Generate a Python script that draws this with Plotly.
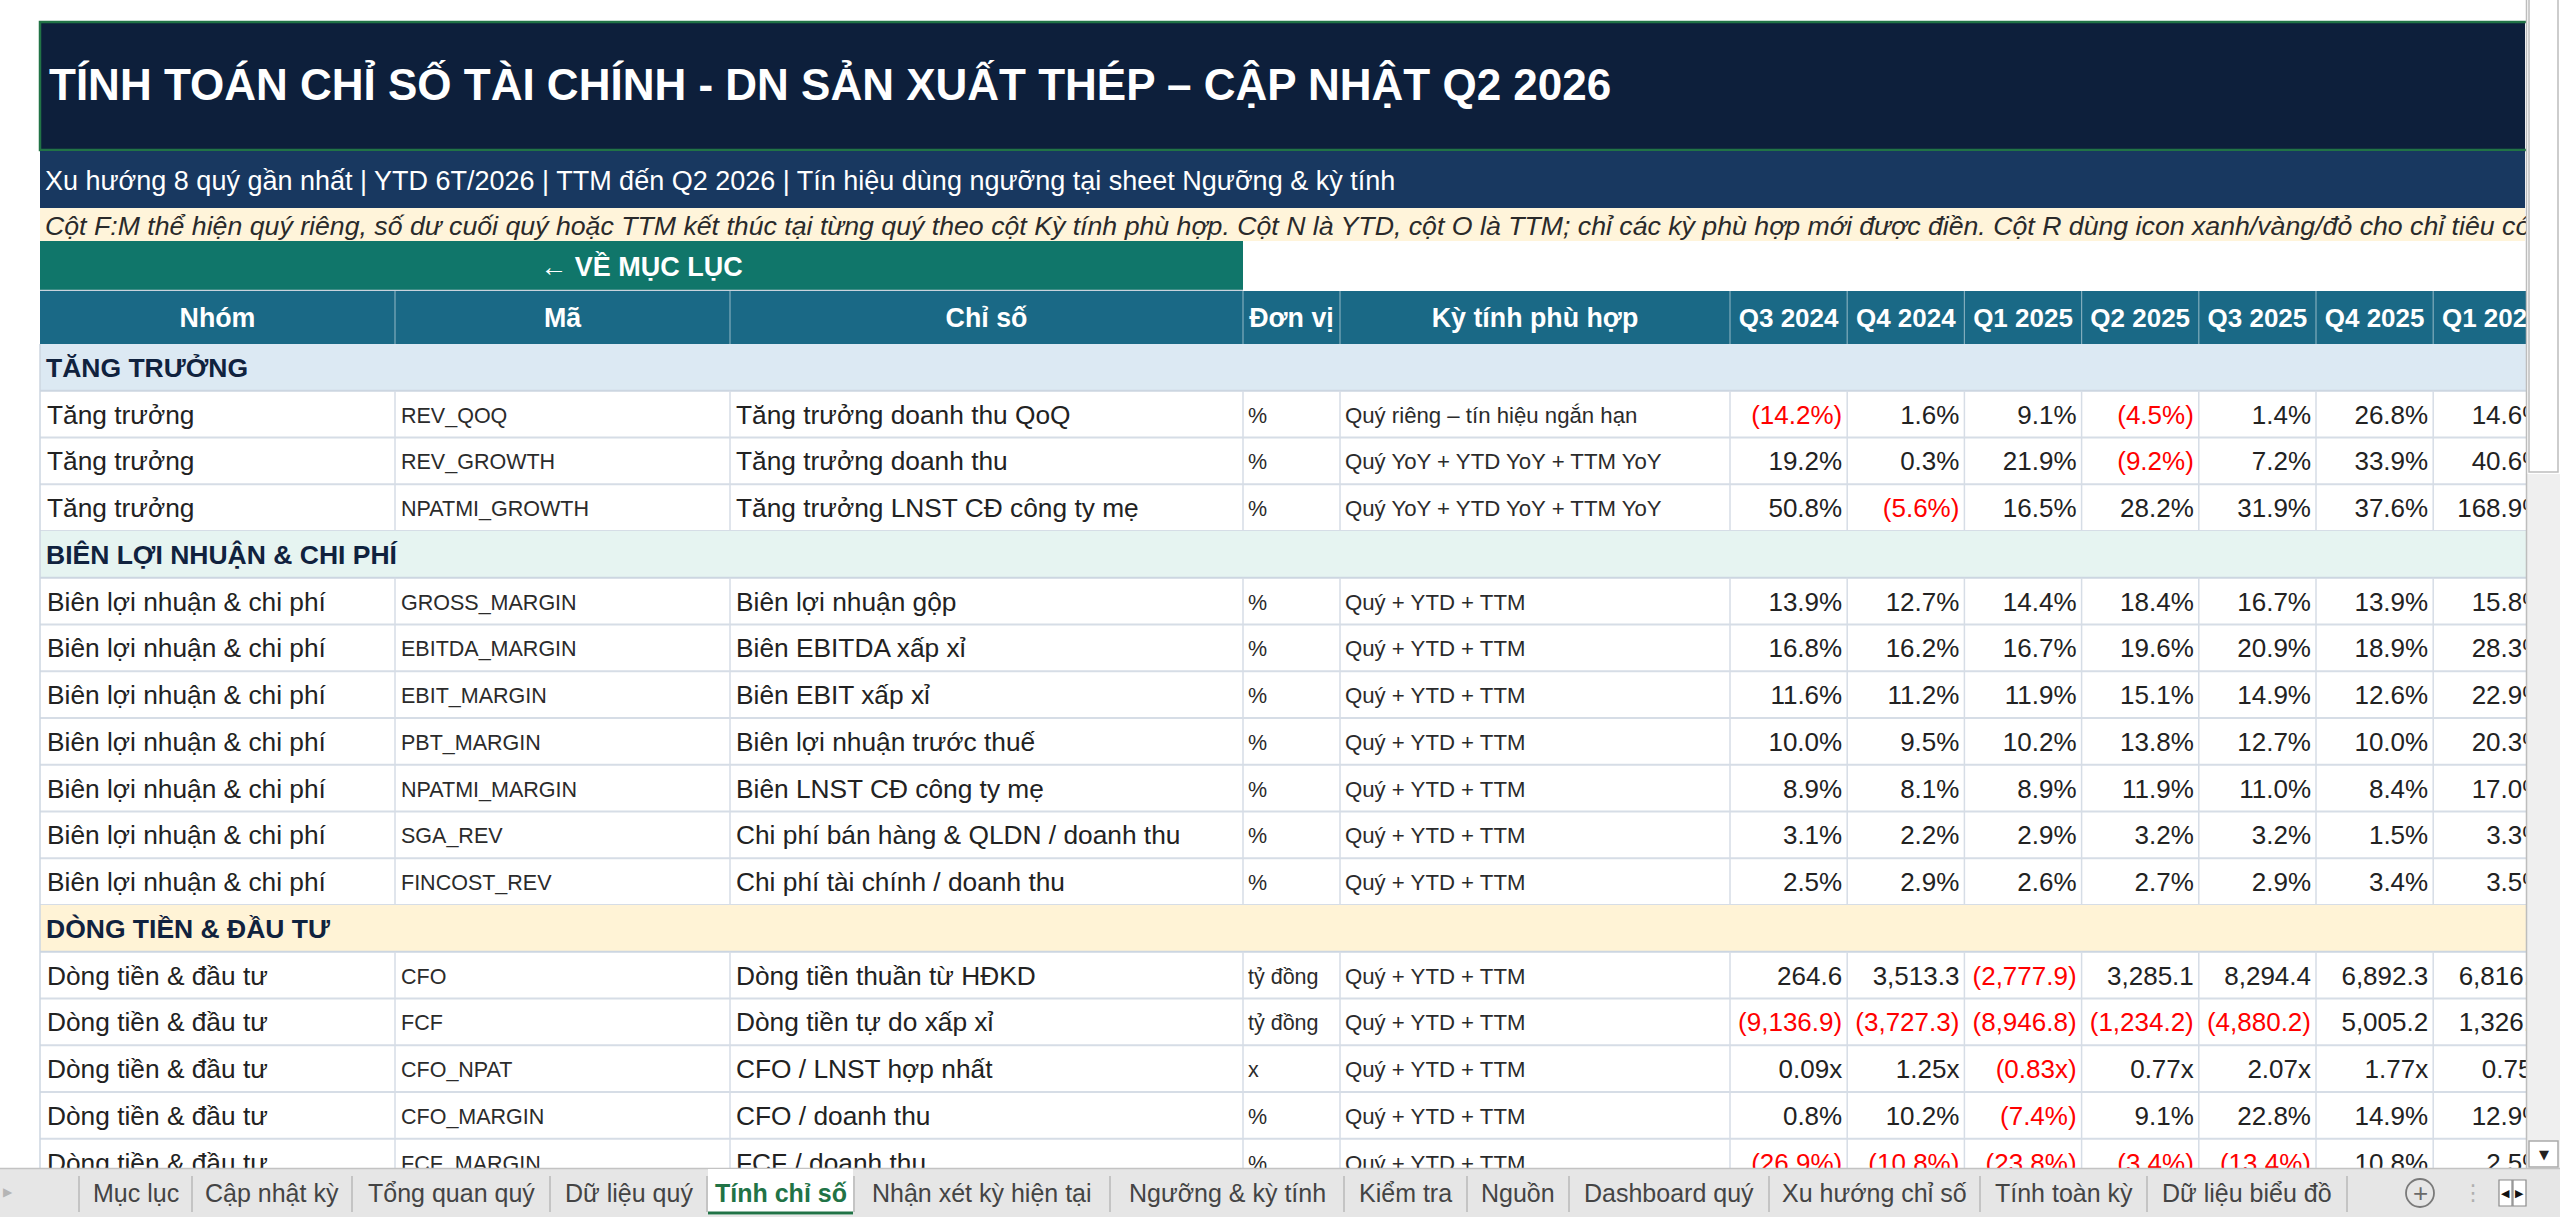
import plotly.graph_objects as go

# ---------------- data ----------------
title_text = "TÍNH TOÁN CHỈ SỐ TÀI CHÍNH - DN SẢN XUẤT THÉP – CẬP NHẬT Q2 2026"
subtitle_text = ("Xu hướng 8 quý gần nhất | YTD 6T/2026 | TTM đến Q2 2026 | "
                 "Tín hiệu dùng ngưỡng tại sheet Ngưỡng & kỳ tính")
note_text = ("Cột F:M thể hiện quý riêng, số dư cuối quý hoặc TTM kết thúc tại từng quý theo cột "
             "Kỳ tính phù hợp. Cột N là YTD, cột O là TTM; chỉ các kỳ phù hợp mới được điền. "
             "Cột R dùng icon xanh/vàng/đỏ cho chỉ tiêu có")
button_text = "← VỀ MỤC LỤC"

header_labels = ["Nhóm", "Mã", "Chỉ số", "Đơn vị", "Kỳ tính phù hợp"]
quarters = ["Q3 2024", "Q4 2024", "Q1 2025", "Q2 2025", "Q3 2025", "Q4 2025", "Q1 2026"]

sections = ["TĂNG TRƯỞNG", "BIÊN LỢI NHUẬN & CHI PHÍ", "DÒNG TIỀN & ĐẦU TƯ"]
section_groups = ["Tăng trưởng", "Biên lợi nhuận & chi phí", "Dòng tiền & đầu tư"]

growth_codes = ["REV_QOQ", "REV_GROWTH", "NPATMI_GROWTH"]
growth_names = ["Tăng trưởng doanh thu QoQ", "Tăng trưởng doanh thu",
                "Tăng trưởng LNST CĐ công ty mẹ"]
growth_units = ["%", "%", "%"]
growth_periods = ["Quý riêng – tín hiệu ngắn hạn", "Quý YoY + YTD YoY + TTM YoY",
                  "Quý YoY + YTD YoY + TTM YoY"]
growth_values = [
    [-14.2, 1.6, 9.1, -4.5, 1.4, 26.8, 14.6],
    [19.2, 0.3, 21.9, -9.2, 7.2, 33.9, 40.6],
    [50.8, -5.6, 16.5, 28.2, 31.9, 37.6, 168.9],
]

margin_codes = ["GROSS_MARGIN", "EBITDA_MARGIN", "EBIT_MARGIN", "PBT_MARGIN",
                "NPATMI_MARGIN", "SGA_REV", "FINCOST_REV"]
margin_names = ["Biên lợi nhuận gộp", "Biên EBITDA xấp xỉ", "Biên EBIT xấp xỉ",
                "Biên lợi nhuận trước thuế", "Biên LNST CĐ công ty mẹ",
                "Chi phí bán hàng & QLDN / doanh thu", "Chi phí tài chính / doanh thu"]
margin_units = ["%"] * 7
margin_periods = ["Quý + YTD + TTM"] * 7
margin_values = [
    [13.9, 12.7, 14.4, 18.4, 16.7, 13.9, 15.8],
    [16.8, 16.2, 16.7, 19.6, 20.9, 18.9, 28.3],
    [11.6, 11.2, 11.9, 15.1, 14.9, 12.6, 22.9],
    [10.0, 9.5, 10.2, 13.8, 12.7, 10.0, 20.3],
    [8.9, 8.1, 8.9, 11.9, 11.0, 8.4, 17.0],
    [3.1, 2.2, 2.9, 3.2, 3.2, 1.5, 3.3],
    [2.5, 2.9, 2.6, 2.7, 2.9, 3.4, 3.5],
]

cash_codes = ["CFO", "FCF", "CFO_NPAT", "CFO_MARGIN", "FCF_MARGIN"]
cash_names = ["Dòng tiền thuần từ HĐKD", "Dòng tiền tự do xấp xỉ", "CFO / LNST hợp nhất",
              "CFO / doanh thu", "FCF / doanh thu"]
cash_units = ["tỷ đồng", "tỷ đồng", "x", "%", "%"]
cash_periods = ["Quý + YTD + TTM"] * 5
cash_values = [
    [264.6, 3513.3, -2777.9, 3285.1, 8294.4, 6892.3, 6816.5],
    [-9136.9, -3727.3, -8946.8, -1234.2, -4880.2, 5005.2, 1326.4],
    [0.09, 1.25, -0.83, 0.77, 2.07, 1.77, 0.75],
    [0.8, 10.2, -7.4, 9.1, 22.8, 14.9, 12.9],
    [-26.9, -10.8, -23.8, -3.4, -13.4, 10.8, 2.5],
]

sheet_tabs = ["Mục lục", "Cập nhật kỳ", "Tổng quan quý", "Dữ liệu quý", "Tính chỉ số",
              "Nhận xét kỳ hiện tại", "Ngưỡng & kỳ tính", "Kiểm tra", "Nguồn",
              "Dashboard quý", "Xu hướng chỉ số", "Tính toàn kỳ", "Dữ liệu biểu đồ"]
active_tab = "Tính chỉ số"

# ---------------- layout constants ----------------
W, H = 2560, 1217
FONT = "Liberation Sans, Arial, sans-serif"
X0 = 40                     # table left edge
XR = 2525                   # visible right edge of sheet
col_widths = [355, 335, 513, 97, 390] + [117.2] * len(quarters)
tab_widths = [113, 160, 198, 157, 147, 256, 234, 123, 102, 200, 211, 167, 200]
TAB_X0 = 79
ROW_TOP = 344
ROW_H = 46.75
TAB_TOP = 1168
DY = 3                      # baseline nudge for cell text

C_TITLE = "#0D1F3B"
C_SUB = "#183860"
C_NOTE = "#FFF4DA"
C_BTN = "#10766A"
C_HEAD = "#1A6986"
C_SEC = ["#DCE9F3", "#E6F4F1", "#FFF3D6"]
C_GRID = "#D6DDE6"
C_RED = "#FF0000"
C_TXT = "#222222"
C_SECTXT = "#10223E"

col_edges = [X0]
for w in col_widths:
    col_edges.append(col_edges[-1] + w)

fig = go.Figure()
shapes = []
annotations = []


def rect(x0, y0, x1, y1, fill, line_color=None, line_width=0, layer="below"):
    shapes.append(dict(type="rect", xref="x", yref="y", x0=x0, y0=y0, x1=x1, y1=y1,
                       fillcolor=fill, layer=layer,
                       line=dict(color=line_color or fill, width=line_width)))


def line(x0, y0, x1, y1, color, width=1.5, layer="below"):
    shapes.append(dict(type="line", xref="x", yref="y", x0=x0, y0=y0, x1=x1, y1=y1,
                       layer=layer, line=dict(color=color, width=width)))


def add_text(xs, ys, texts, size, color, position, weight="normal", style="normal"):
    fig.add_trace(go.Scatter(
        x=xs, y=[y + DY for y in ys], text=texts, mode="text", textposition=position,
        textfont=dict(size=size, color=color, family=FONT, weight=weight, style=style),
        hoverinfo="skip", showlegend=False, cliponaxis=True))


def fmt(v, unit):
    if unit == "tỷ đồng":
        s = f"{abs(v):,.1f}"
    elif unit == "x":
        s = f"{abs(v):.2f}x"
    else:
        s = f"{abs(v):.1f}%"
    return f"({s})" if v < 0 else s


# ---------------- banner areas ----------------
rect(X0, 22, XR, 150, C_TITLE)
shapes.append(dict(type="rect", xref="x", yref="y", x0=X0, y0=22, x1=XR + 4, y1=150,
                   fillcolor="rgba(0,0,0,0)", layer="below",
                   line=dict(color="#217346", width=2.5)))
rect(X0, 151, XR, 208, C_SUB)
rect(X0, 208, XR, 241, C_NOTE)
rect(X0, 241, col_edges[3], 290, C_BTN)
line(X0, 290.5, col_edges[3], 290.5, "#C9D3DD", 1.5)

add_text([49], [86], [title_text], 44, "white", "middle right", weight="bold")
add_text([45], [180], [subtitle_text], 27, "white", "middle right")
add_text([45], [225], [note_text], 26.7, "#2A2A2A", "middle right", style="italic")
add_text([(X0 + col_edges[3]) / 2], [266], [button_text], 27, "white", "middle center",
         weight="bold")

# ---------------- header row ----------------
HEAD_Y0, HEAD_Y1 = 291, ROW_TOP
rect(X0, HEAD_Y0, col_edges[-1], HEAD_Y1, C_HEAD)
for xe in col_edges[1:-1]:
    line(xe, HEAD_Y0, xe, HEAD_Y1, "rgba(255,255,255,0.45)", 1.2)
hx = [(col_edges[i] + col_edges[i + 1]) / 2 for i in range(len(col_widths))]
add_text(hx[:5], [(HEAD_Y0 + HEAD_Y1) / 2] * 5, header_labels, 26.8, "white",
         "middle center", weight="bold")
add_text(hx[5:], [(HEAD_Y0 + HEAD_Y1) / 2] * len(quarters), quarters, 26, "white",
         "middle center", weight="bold")

# ---------------- body rows ----------------
blocks = [
    (growth_codes, growth_names, growth_units, growth_periods, growth_values),
    (margin_codes, margin_names, margin_units, margin_periods, margin_values),
    (cash_codes, cash_names, cash_units, cash_periods, cash_values),
]

sec_x, sec_y, sec_t = [], [], []
big_x, big_y, big_t = [], [], []
code_x, code_y, code_t = [], [], []
per_x, per_y, per_t = [], [], []
val_x, val_y, val_t, val_c = [], [], [], []

r = 0
for si, (codes, names, units, periods, values) in enumerate(blocks):
    y0 = ROW_TOP + r * ROW_H
    rect(X0, y0, col_edges[-1], y0 + ROW_H, C_SEC[si])
    line(X0, y0 + ROW_H, col_edges[-1], y0 + ROW_H, "#CCD6E1", 2)
    sec_x.append(X0 + 6)
    sec_y.append(y0 + ROW_H / 2)
    sec_t.append(sections[si])
    r += 1
    for k in range(len(codes)):
        y0 = ROW_TOP + r * ROW_H
        yc = y0 + ROW_H / 2
        line(X0, y0 + ROW_H, col_edges[-1], y0 + ROW_H, C_GRID, 1.8)
        for xe in col_edges[1:-1]:
            line(xe, y0, xe, y0 + ROW_H, C_GRID, 1.5)
        big_x += [X0 + 7, col_edges[2] + 6]
        big_y += [yc, yc]
        big_t += [section_groups[si], names[k]]
        code_x += [col_edges[1] + 6, col_edges[3] + 5]
        code_y += [yc, yc]
        code_t += [codes[k], units[k]]
        per_x.append(col_edges[4] + 5)
        per_y.append(yc)
        per_t.append(periods[k])
        for q, v in enumerate(values[k]):
            val_x.append(col_edges[5 + q + 1] - 5)
            val_y.append(yc)
            val_t.append(fmt(v, units[k]))
            val_c.append(C_RED if v < 0 else C_TXT)
        r += 1

line(X0, ROW_TOP, X0, ROW_TOP + r * ROW_H, "#CCD6E1", 1.5)

add_text(sec_x, sec_y, sec_t, 26.5, C_SECTXT, "middle right", weight="bold")
add_text(big_x, big_y, big_t, 26.3, C_TXT, "middle right")
add_text(code_x, code_y, code_t, 21.5, "#2B2B2B", "middle right")
add_text(per_x, per_y, per_t, 22.2, "#2B2B2B", "middle right")
add_text(val_x, val_y, val_t, 26, val_c, "middle left")

# ---------------- vertical scrollbar (covers overflow) ----------------
rect(XR + 1, 0, W, TAB_TOP, "white", layer="above")
rect(XR + 1, 474, W, TAB_TOP, "#EFEFEF", layer="above")
line(XR + 1.5, 0, XR + 1.5, TAB_TOP, "#BDBDBD", 1.5, layer="above")
rect(2529, -2, 2558, 472, "white", "#BDBDBD", 1.5, layer="above")
rect(2529, 1141, 2558, 1167, "white", "#ABABAB", 1.5, layer="above")
annotations.append(dict(x=2543.5, y=1154, xref="x", yref="y", text="▼", showarrow=False,
                        font=dict(size=13, color="#222", family="DejaVu Sans")))

# ---------------- sheet tab bar ----------------
rect(0, TAB_TOP, W, H, "#E6E6E6", layer="above")
line(0, TAB_TOP + 0.5, W, TAB_TOP + 0.5, "#C3C3C3", 1.5, layer="above")
annotations.append(dict(x=8, y=1192, xref="x", yref="y", text="▶", showarrow=False,
                        font=dict(size=12, color="#B5B5B5", family="DejaVu Sans")))
tx = TAB_X0
line(tx, 1176, tx, 1212, "#B8B8B8", 1.5, layer="above")
for name, w in zip(sheet_tabs, tab_widths):
    is_active = name == active_tab
    if is_active:
        rect(tx + 1, TAB_TOP + 1, tx + w - 1, 1215, "white", layer="above")
        line(tx + 1, 1213, tx + w - 1, 1213, "#217346", 3, layer="above")
    annotations.append(dict(
        x=tx + w / 2, y=1193, xref="x", yref="y",
        text=f"<b>{name}</b>" if is_active else name, showarrow=False,
        font=dict(size=25, color="#217346" if is_active else "#444444", family=FONT)))
    tx += w
    line(tx, 1176, tx, 1212, "#B8B8B8", 1.5, layer="above")

shapes.append(dict(type="circle", xref="x", yref="y", x0=2406, y0=1179, x1=2434, y1=1207,
                   layer="above", line=dict(color="#7A7A7A", width=1.8)))
annotations.append(dict(x=2420, y=1193, xref="x", yref="y", text="+", showarrow=False,
                        font=dict(size=26, color="#6A6A6A", family=FONT)))
annotations.append(dict(x=2473, y=1192, xref="x", yref="y", text="⋮", showarrow=False,
                        font=dict(size=22, color="#B0B0B0", family="DejaVu Sans")))
rect(2499, 1180, 2512, 1206, "white", "#8A8A8A", 1.2, layer="above")
rect(2513, 1180, 2526, 1206, "white", "#8A8A8A", 1.2, layer="above")
annotations.append(dict(x=2505.5, y=1193, xref="x", yref="y", text="◀", showarrow=False,
                        font=dict(size=11, color="#111", family="DejaVu Sans")))
annotations.append(dict(x=2519.5, y=1193, xref="x", yref="y", text="▶", showarrow=False,
                        font=dict(size=11, color="#111", family="DejaVu Sans")))

fig.update_layout(
    width=W, height=H, margin=dict(l=0, r=0, t=0, b=0),
    paper_bgcolor="white", plot_bgcolor="white",
    xaxis=dict(range=[0, W], visible=False, fixedrange=True),
    yaxis=dict(range=[H, 0], visible=False, fixedrange=True),
    shapes=shapes, annotations=annotations, showlegend=False,
)

fig.write_html("out.html", config={"displayModeBar": False, "staticPlot": True},
               post_script="document.body.style.margin='0';document.body.style.overflow='hidden';")
